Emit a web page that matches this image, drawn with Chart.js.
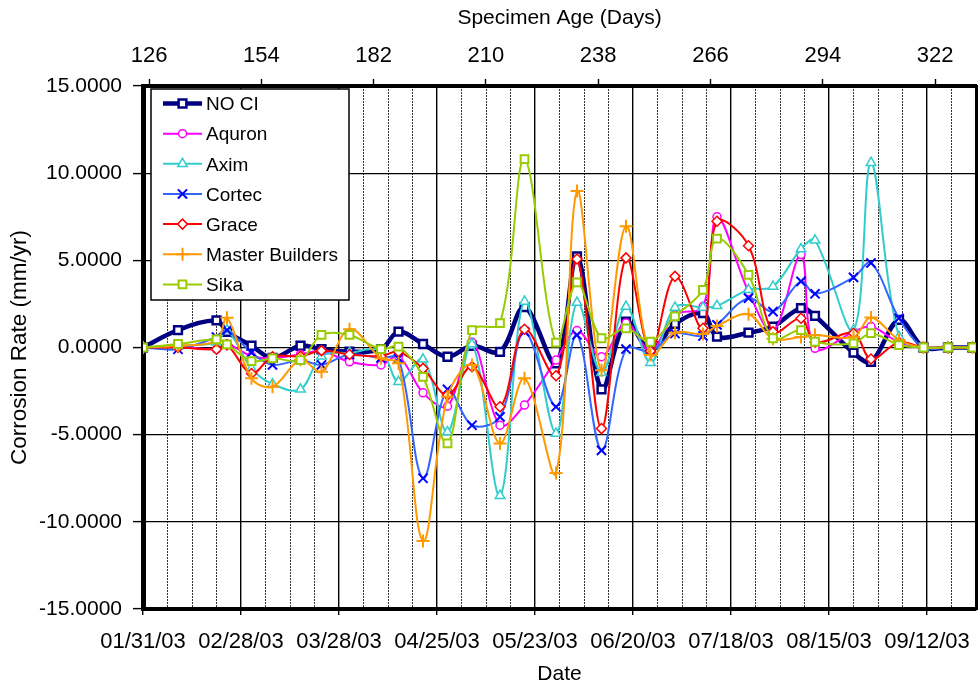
<!DOCTYPE html>
<html>
<head>
<meta charset="utf-8">
<title>Corrosion Rate vs Date</title>
<script src="https://cdn.jsdelivr.net/npm/chart.js@4.4.1/dist/chart.umd.min.js"></script>
<style>
  html, body { margin: 0; padding: 0; background: #fff; }
  #wrap { position: relative; width: 978px; height: 687px; }
</style>
</head>
<body>
<div id="wrap"><canvas id="corrosionChart"></canvas></div>
<script>
// measurement dates
const dates = ['01/31/03', '02/10/03', '02/21/03', '02/24/03', '03/03/03', '03/09/03', '03/17/03',
  '03/23/03', '03/31/03', '04/09/03', '04/14/03', '04/21/03', '04/28/03', '05/05/03', '05/13/03',
  '05/20/03', '05/29/03', '06/04/03', '06/11/03', '06/18/03', '06/25/03', '07/02/03', '07/10/03',
  '07/14/03', '07/23/03', '07/30/03', '08/07/03', '08/11/03', '08/22/03', '08/27/03', '09/04/03',
  '09/11/03', '09/18/03', '09/25/03'];

// corrosion rate (mm/yr) per inhibitor
const noCI = [0, 1.0, 1.55, 0.9, 0.1, -0.6, 0.1, -0.1, -0.24, -0.1, 0.91, 0.2, -0.53, 0.1, -0.25,
  2.31, -0.91, 5.23, -2.4, 1.49, -0.14, 1.35, 1.97, 0.62, 0.85, 1.2, 2.26, 1.81, -0.3, -0.82, 1.58, 0, 0, 0];
const aquron = [0, 0.05, -0.1, 0.2, -0.5, -0.6, -0.4, -0.2, -0.82, -1.0, -0.5, -2.6, -3.37, 0.3, -4.46,
  -3.3, -0.72, 0.97, -0.53, 1.4, -0.2, 1.87, 2.35, 7.5, 3.2, 0.91, 5.33, -0.05, 0.9, 1.2, 0.3, 0, 0, 0];
const axim = [0, 0.1, 0.3, 1.0, -1.2, -2.1, -2.4, -0.5, -0.3, -0.2, -1.97, -0.68, -4.85, 0.2, -8.5,
  2.64, -4.94, 2.58, -1.45, 2.35, -0.87, 2.3, 2.3, 2.39, 3.31, 3.5, 5.65, 6.15, 1.0, 10.6, 0.62, 0, 0, 0];
const cortec = [0, -0.1, 0.6, 1.0, -0.3, -1.0, -0.72, -1.0, -0.4, -0.6, -0.62, -7.5, -2.4, -4.46, -3.98,
  0.9, -3.4, 0.72, -5.9, -0.09, -0.2, 0.8, 0.66, 1.3, 2.83, 2.06, 3.79, 3.08, 4.02, 4.85, 1.68, 0, 0, 0];
const grace = [0, 0, -0.1, 0.14, -1.49, -0.53, -0.5, -0.18, -0.4, -0.5, -0.24, -1.2, -2.73, -1.1, -3.4,
  1.05, -1.62, 5.08, -4.65, 5.14, -0.2, 4.08, 1.1, 7.24, 5.84, 0.9, 1.68, 0.3, 0.82, -0.66, 0.3, 0, 0, 0];
const masterBuilders = [0, 0.1, 0.4, 1.7, -1.77, -2.25, -0.7, -1.39, 1.05, -0.62, -0.91, -11.1, -2.83, -1.0, -5.5,
  -1.77, -7.2, 8.97, -1.3, 6.96, -0.43, 0.85, 0.78, 1.24, 1.91, 0.5, 0.6, 0.72, 0.6, 1.72, 0.43, 0, 0, 0];
const sika = [0, 0.2, 0.47, 0.18, -0.78, -0.62, -0.72, 0.72, 0.72, -0.09, 0.05, -1.68, -5.5, 1.0, 1.4,
  10.8, 0.28, 3.73, 0.53, 1.1, 0.33, 1.79, 3.31, 6.25, 4.17, 0.53, 1.0, 0.33, 0.24, 0.82, 0.14, 0, 0, 0];

// axis ticks
const dateTicks = ['01/31/03', '02/28/03', '03/28/03', '04/25/03', '05/23/03', '06/20/03', '07/18/03', '08/15/03', '09/12/03'];
const ageTicks = [126, 154, 182, 210, 238, 266, 294, 322];
const rateTicks = [-15, -10, -5, 0, 5, 10, 15];

const FONT = '"Liberation Sans", Arial, sans-serif';
const DAY0 = Date.UTC(2003, 0, 31);

function dayOf(label) {
  const [m, d, y] = label.split('/').map(Number);
  return Math.round((Date.UTC(2000 + y, m - 1, d) - DAY0) / 864e5);
}
function labelOf(day) {
  const t = new Date(DAY0 + day * 864e5);
  const pad = n => String(n).padStart(2, '0');
  return pad(t.getUTCMonth() + 1) + '/' + pad(t.getUTCDate()) + '/' + String(t.getUTCFullYear()).slice(2);
}

const majorDays = dateTicks.map(dayOf);
const lastDay = 238;
const weekDays = [];
for (let d = 0; d <= lastDay; d += 7) weekDays.push(d);

const isMajor = ctx => ctx.tick && majorDays.includes(ctx.tick.value);
const series = (values) => dates.map((d, i) => ({ x: dayOf(d), y: values[i] }));

// fixed box sizes so the plot area lands where the original had it
const fixBox = (size) => (scale) => {
  if (scale.isHorizontal()) scale.height = size; else scale.width = size;
  scale.paddingLeft = 0; scale.paddingRight = 0; scale.paddingTop = 0; scale.paddingBottom = 0;
};

// legend drawn as a framed box in the top-left corner of the plot
const boxLegend = {
  id: 'boxLegend',
  afterDatasetsDraw(chart) {
    const { ctx, chartArea } = chart;
    const x0 = chartArea.left + 8, y0 = chartArea.top + 3, w = 198, h = 211;
    ctx.save();
    ctx.fillStyle = '#fff';
    ctx.fillRect(x0, y0, w, h);
    ctx.lineWidth = 1.5;
    ctx.strokeStyle = '#000';
    ctx.strokeRect(x0, y0, w, h);
    ctx.font = '19px ' + FONT;
    ctx.textBaseline = 'middle';
    chart.data.datasets.forEach((ds, i) => {
      const y = y0 + 14.5 + i * 30.15;
      ctx.lineWidth = ds.borderWidth;
      ctx.strokeStyle = ds.borderColor;
      ctx.beginPath();
      ctx.moveTo(x0 + 12, y);
      ctx.lineTo(x0 + 51, y);
      ctx.stroke();
      ctx.fillStyle = ds.pointBackgroundColor;
      ctx.strokeStyle = ds.pointBorderColor;
      ctx.lineWidth = ds.pointBorderWidth;
      Chart.helpers.drawPoint(ctx, {
        pointStyle: ds.pointStyle, radius: ds.pointRadius, rotation: 0, borderWidth: ds.pointBorderWidth,
      }, x0 + 31.5, y);
      ctx.fillStyle = '#000';
      ctx.fillText(ds.label, x0 + 55, y + 1.5);
    });
    ctx.restore();
  },
};

const mk = (label, values, color, style, radius, extra) => Object.assign({
  label,
  data: series(values),
  borderColor: color,
  borderWidth: 2,
  pointStyle: style,
  pointRadius: radius,
  pointBorderColor: color,
  pointBackgroundColor: '#fff',
  pointBorderWidth: 1.5,
  tension: 0.35,
  fill: false,
}, extra || {});

const datasets = [
  mk('NO CI', noCI, '#000080', 'rect', 5.5, { borderWidth: 4.5, pointBorderWidth: 2.5, order: 6 }),
  mk('Aquron', aquron, '#ff00ff', 'circle', 4, { order: 5 }),
  mk('Axim', axim, '#33cccc', 'triangle', 5.5, { order: 4 }),
  mk('Cortec', cortec, '#3366ff', 'crossRot', 6.5, { pointBorderColor: '#0000ff', pointBorderWidth: 2, order: 3 }),
  mk('Grace', grace, '#ff0000', 'rectRot', 5, { order: 2 }),
  mk('Master Builders', masterBuilders, '#ff9900', 'cross', 6.5, { pointBorderWidth: 2, order: 1 }),
  mk('Sika', sika, '#99cc00', 'rect', 5.5, { pointBorderWidth: 2, order: 0 }),
];

const tickFont = { family: FONT, size: 21 };
const xTickFont = { family: FONT, size: 22 };

new Chart(document.getElementById('corrosionChart').getContext('2d'), {
  type: 'line',
  data: { datasets },
  plugins: [boxLegend],
  options: {
    responsive: true,
    maintainAspectRatio: false,
    animation: false,
    events: [],
    layout: { autoPadding: false, padding: { left: 0, right: 1, top: 0, bottom: 0 } },
    plugins: { legend: { display: false }, tooltip: { enabled: false } },
    scales: {
      x: {
        type: 'linear',
        position: 'bottom',
        min: 0,
        max: lastDay,
        afterBuildTicks: (scale) => { scale.ticks = weekDays.map(v => ({ value: v })); },
        afterFit: fixBox(78),
        ticks: {
          autoSkip: false, maxRotation: 0, minRotation: 0,
          font: xTickFont, color: '#000', padding: 14,
          callback: (v) => (majorDays.includes(v) ? labelOf(v) : ''),
        },
        grid: {
          color: (ctx) => (isMajor(ctx) ? '#000' : '#333'),
          lineWidth: (ctx) => (isMajor(ctx) ? 1.4 : 1),
          tickLength: 6,
          tickColor: (ctx) => (isMajor(ctx) ? '#000' : 'rgba(0,0,0,0)'),
          tickWidth: 1.4,
        },
        border: { color: '#000', width: 4, dash: (ctx) => (isMajor(ctx) ? [] : [2, 1]) },
        title: { display: true, text: 'Date', font: tickFont, color: '#000', padding: { top: 0, bottom: 0 } },
      },
      x2: {
        type: 'linear',
        position: 'top',
        min: 124.5,
        max: 332.2,
        afterBuildTicks: (scale) => { scale.ticks = ageTicks.map(v => ({ value: v })); },
        afterFit: fixBox(86),
        ticks: { autoSkip: false, maxRotation: 0, font: xTickFont, color: '#000', padding: 10 },
        grid: { drawOnChartArea: false, tickLength: 7, tickColor: '#000', tickWidth: 1.4 },
        border: { color: '#000', width: 4 },
        title: { display: true, text: 'Specimen Age (Days)', font: tickFont, color: '#000', padding: { top: 6, bottom: 0 } },
      },
      y: {
        position: 'left',
        min: -15,
        max: 15,
        afterBuildTicks: (scale) => { scale.ticks = rateTicks.map(v => ({ value: v })); },
        afterFit: fixBox(143),
        ticks: { font: tickFont, color: '#000', padding: 11, callback: (v) => v.toFixed(4) },
        grid: { color: '#000', lineWidth: 1.2, tickLength: 10, tickColor: '#000', tickWidth: 1.4 },
        border: { color: '#000', width: 5 },
        title: {
          display: true, text: 'Corrosion Rate (mm/yr)', font: { family: FONT, size: 22.5 },
          color: '#000', padding: { top: 6, bottom: 0 },
        },
      },
      y2: {
        type: 'linear',
        position: 'right',
        min: -15,
        max: 15,
        afterFit: fixBox(1),
        ticks: { display: false },
        grid: { drawOnChartArea: false, drawTicks: false },
        border: { color: '#000', width: 3 },
      },
    },
  },
});
</script>
</body>
</html>
